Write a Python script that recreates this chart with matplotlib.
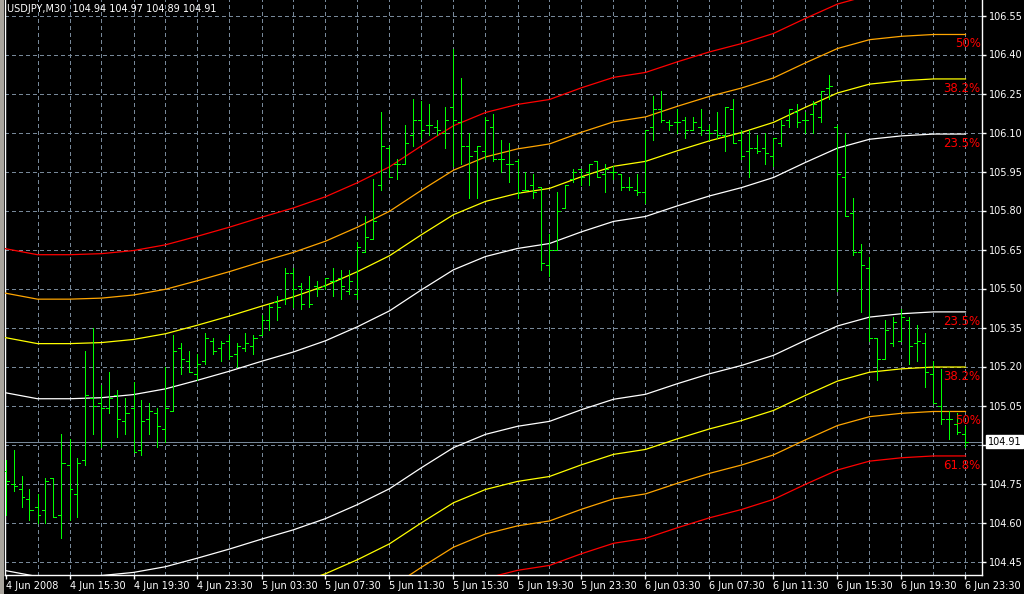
import matplotlib
matplotlib.use("Agg")
import matplotlib.pyplot as plt
from matplotlib.collections import LineCollection
from matplotlib.patches import Rectangle

plt.rcParams["lines.scale_dashes"] = False

# ---------------- data ----------------
title = "USDJPY,M30  104.94 104.97 104.89 104.91"

opens = [104.80, 104.75, 104.73, 104.69, 104.66, 104.65, 104.77, 104.63, 104.82, 104.71,
         104.84, 105.08, 105.06, 105.04, 105.09, 104.99, 105.04, 104.88, 105.00, 105.02,
         104.96, 105.03, 105.27, 105.22, 105.17, 105.22, 105.30, 105.27, 105.30, 105.25,
         105.27, 105.28, 105.32, 105.38, 105.45, 105.46, 105.56, 105.51, 105.50, 105.51,
         105.51, 105.53, 105.54, 105.49, 105.48, 105.64, 105.69, 105.90, 106.04, 105.98,
         105.98, 106.09, 106.15, 106.13, 106.12, 106.10, 106.20, 106.14, 106.05, 106.03,
         106.03, 106.12, 106.00, 105.98, 105.99, 105.88, 105.90, 105.89, 105.59, 105.65,
         105.81, 105.92, 105.96, 105.95, 105.99, 105.94, 105.95, 105.94, 105.89, 105.88,
         105.87, 106.12, 106.19, 106.14, 106.14, 106.15, 106.11, 106.12, 106.11, 106.11,
         106.09, 106.19, 106.07, 106.03, 106.04, 106.04, 106.01, 106.06, 106.15, 106.18,
         106.15, 106.17, 106.16, 106.27, 106.12, 105.93, 105.79, 105.64, 105.58, 105.31,
         105.23, 105.29, 105.30, 105.38, 105.29, 105.29, 105.17, 105.05, 105.00, 104.98,
         104.94]
highs = [104.84, 104.88, 104.78, 104.73, 104.71, 104.77, 104.77, 104.94, 104.92, 104.85,
         105.26, 105.35, 105.13, 105.18, 105.11, 105.08, 105.14, 105.07, 105.06, 105.04,
         105.20, 105.32, 105.29, 105.26, 105.25, 105.33, 105.31, 105.30, 105.32, 105.29,
         105.33, 105.32, 105.40, 105.44, 105.47, 105.58, 105.58, 105.52, 105.55, 105.53,
         105.54, 105.58, 105.57, 105.57, 105.68, 105.78, 105.92, 106.18, 106.05, 106.00,
         106.13, 106.23, 106.22, 106.21, 106.15, 106.20, 106.42, 106.31, 106.10, 106.05,
         106.16, 106.17, 106.07, 106.06, 106.00, 105.95, 105.94, 105.89, 105.71, 105.87,
         105.90, 105.96, 105.96, 105.98, 105.99, 105.98, 105.97, 105.94, 105.93, 105.94,
         106.11, 106.24, 106.26, 106.15, 106.19, 106.16, 106.16, 106.19, 106.13, 106.18,
         106.20, 106.23, 106.11, 106.11, 106.09, 106.10, 106.08, 106.15, 106.19, 106.21,
         106.18, 106.22, 106.26, 106.32, 106.13, 106.10, 105.85, 105.67, 105.62, 105.31,
         105.38, 105.39, 105.42, 105.39, 105.36, 105.33, 105.22, 105.19, 105.03, 105.02,
         104.97]
lows = [104.63, 104.72, 104.66, 104.61, 104.60, 104.60, 104.62, 104.54, 104.61, 104.62,
        104.82, 104.94, 104.89, 105.02, 104.93, 104.94, 104.87, 104.86, 104.94, 104.89,
        104.91, 105.03, 105.17, 105.18, 105.15, 105.21, 105.25, 105.22, 105.23, 105.20,
        105.26, 105.25, 105.32, 105.34, 105.38, 105.44, 105.43, 105.42, 105.43, 105.47,
        105.50, 105.47, 105.46, 105.48, 105.46, 105.64, 105.69, 105.88, 105.93, 105.92,
        105.98, 106.05, 106.08, 106.09, 106.09, 106.04, 105.97, 105.98, 105.85, 105.85,
        106.00, 105.99, 105.95, 105.91, 105.85, 105.88, 105.85, 105.57, 105.55, 105.65,
        105.81, 105.91, 105.90, 105.90, 105.93, 105.87, 105.92, 105.88, 105.88, 105.86,
        105.83, 106.07, 106.14, 106.11, 106.10, 106.08, 106.11, 106.09, 106.07, 106.08,
        106.03, 106.06, 106.00, 105.93, 106.02, 105.98, 105.97, 106.05, 106.12, 106.12,
        106.10, 106.10, 106.14, 106.23, 105.49, 105.78, 105.63, 105.41, 105.30, 105.15,
        105.23, 105.28, 105.30, 105.21, 105.22, 105.12, 105.06, 104.98, 104.92, 104.94,
        104.89]
closes = [104.76, 104.74, 104.70, 104.65, 104.63, 104.76, 104.62, 104.83, 104.73, 104.83,
          105.09, 105.05, 105.04, 105.08, 105.00, 105.02, 104.87, 104.99, 105.03, 104.97,
          105.04, 105.26, 105.23, 105.18, 105.21, 105.31, 105.26, 105.29, 105.24, 105.28,
          105.29, 105.31, 105.38, 105.43, 105.43, 105.56, 105.50, 105.44, 105.44, 105.50,
          105.54, 105.53, 105.51, 105.53, 105.66, 105.70, 105.76, 106.05, 105.93, 105.98,
          106.06, 106.15, 106.11, 106.13, 106.11, 106.15, 106.15, 106.05, 106.01, 106.05,
          106.15, 106.00, 106.00, 105.98, 105.87, 105.88, 105.87, 105.60, 105.65, 105.80,
          105.90, 105.95, 105.93, 105.98, 105.93, 105.96, 105.95, 105.89, 105.89, 105.87,
          106.11, 106.19, 106.15, 106.13, 106.14, 106.11, 106.14, 106.11, 106.10, 106.09,
          106.20, 106.06, 106.01, 106.04, 106.03, 106.02, 106.08, 106.13, 106.19, 106.14,
          106.15, 106.21, 106.26, 106.28, 105.94, 105.78, 105.64, 105.59, 105.31, 105.23,
          105.34, 105.37, 105.39, 105.28, 105.30, 105.18, 105.06, 105.00, 105.00, 104.95,
          104.91]

# indicator lines, sampled every 4 bars (bar 0, 4, ..., 120)
band_bars = list(range(0, 121, 4))
upper_618 = [105.653, 105.630, 105.630, 105.634, 105.646, 105.668, 105.701, 105.736, 105.774, 105.810,
             105.853, 105.907, 105.968, 106.049, 106.126, 106.177, 106.208, 106.227, 106.272, 106.312,
             106.331, 106.372, 106.410, 106.442, 106.481, 106.539, 106.594, 106.628, 106.641, 106.648,
             106.648]
upper_500 = [105.482, 105.459, 105.459, 105.463, 105.475, 105.497, 105.530, 105.565, 105.603, 105.639,
             105.682, 105.736, 105.797, 105.878, 105.955, 106.006, 106.037, 106.056, 106.101, 106.141,
             106.160, 106.201, 106.239, 106.271, 106.310, 106.368, 106.423, 106.457, 106.470, 106.477,
             106.477]
upper_382 = [105.311, 105.288, 105.288, 105.292, 105.304, 105.326, 105.359, 105.394, 105.432, 105.468,
             105.511, 105.565, 105.626, 105.707, 105.784, 105.835, 105.866, 105.885, 105.930, 105.970,
             105.989, 106.030, 106.068, 106.100, 106.139, 106.197, 106.252, 106.286, 106.299, 106.306,
             106.306]
upper_236 = [105.099, 105.076, 105.076, 105.080, 105.092, 105.114, 105.147, 105.182, 105.220, 105.256,
             105.299, 105.353, 105.414, 105.495, 105.572, 105.623, 105.654, 105.673, 105.718, 105.758,
             105.777, 105.818, 105.856, 105.888, 105.927, 105.985, 106.040, 106.074, 106.087, 106.094,
             106.094]
lower_236 = [104.415, 104.392, 104.392, 104.396, 104.408, 104.430, 104.463, 104.498, 104.536, 104.572,
             104.615, 104.669, 104.730, 104.811, 104.888, 104.939, 104.970, 104.989, 105.034, 105.074,
             105.093, 105.134, 105.172, 105.204, 105.243, 105.301, 105.356, 105.390, 105.403, 105.410,
             105.410]
lower_382 = [104.203, 104.180, 104.180, 104.184, 104.196, 104.218, 104.251, 104.286, 104.324, 104.360,
             104.403, 104.457, 104.518, 104.599, 104.676, 104.727, 104.758, 104.777, 104.822, 104.862,
             104.881, 104.922, 104.960, 104.992, 105.031, 105.089, 105.144, 105.178, 105.191, 105.198,
             105.198]
lower_500 = [104.032, 104.009, 104.009, 104.013, 104.025, 104.047, 104.080, 104.115, 104.153, 104.189,
             104.232, 104.286, 104.347, 104.428, 104.505, 104.556, 104.587, 104.606, 104.651, 104.691,
             104.710, 104.751, 104.789, 104.821, 104.860, 104.918, 104.973, 105.007, 105.020, 105.027,
             105.027]
lower_618 = [103.861, 103.838, 103.838, 103.842, 103.854, 103.876, 103.909, 103.944, 103.982, 104.018,
             104.061, 104.115, 104.176, 104.257, 104.334, 104.385, 104.416, 104.435, 104.480, 104.520,
             104.539, 104.580, 104.618, 104.650, 104.689, 104.747, 104.802, 104.836, 104.849, 104.856,
             104.856]

price_ticks = [104.45, 104.60, 104.75, 104.90, 105.05, 105.20, 105.35, 105.50, 105.65,
               105.80, 105.95, 106.10, 106.25, 106.40, 106.55]
price_labels = ["104.45", "104.60", "104.75", "", "105.05", "105.20", "105.35", "105.50",
                "105.65", "105.80", "105.95", "106.10", "106.25", "106.40", "106.55"]
time_labels = ["4 Jun 2008", "4 Jun 15:30", "4 Jun 19:30", "4 Jun 23:30", "5 Jun 03:30",
               "5 Jun 07:30", "5 Jun 11:30", "5 Jun 15:30", "5 Jun 19:30", "5 Jun 23:30",
               "6 Jun 03:30", "6 Jun 07:30", "6 Jun 11:30", "6 Jun 15:30", "6 Jun 19:30",
               "6 Jun 23:30"]
last_price = 104.91

# ---------------- figure ----------------
W, H = 1024, 594
fig = plt.figure(figsize=(W / 100, H / 100), dpi=100, facecolor="black")
L, R, B = 4.5, 982.0, 575.0          # pixel edges (x left/right, y bottom from top)
ax = fig.add_axes([L / W, (H - B) / H, (R - L) / W, B / H])
ax.set_facecolor("black")

n = len(opens)
# bar i sits on pixel centre x = 5.5 + 8 i
ax.set_xlim((L - 5.5) / 8.0, (R - 5.5) / 8.0)
# price 104.45 on pixel centre y = 561.5 (from top), 260 px per unit
pxu = 260.0
ax.set_ylim(104.45 - (B - 561.5) / pxu, 104.45 + 561.5 / pxu)

PX = 0.6  # crisp one-pixel aliased line
grid_col = "#778899"
dash = (0, (2.2, 2.2))
for p in price_ticks:
    ax.axhline(p, color=grid_col, lw=PX, ls=dash, antialiased=False, zorder=1)
for b in range(4, n, 4):
    ax.axvline(b, color=grid_col, lw=PX, ls=dash, antialiased=False, zorder=1)

# indicator lines
band_specs = [
    (upper_618, "#ff0000"), (upper_500, "#ffa500"), (upper_382, "#ffff00"), (upper_236, "#ffffff"),
    (lower_236, "#ffffff"), (lower_382, "#ffff00"), (lower_500, "#ffa500"), (lower_618, "#ff0000"),
]
for vals, col in band_specs:
    ax.plot(band_bars, vals, color=col, lw=0.9, zorder=3)

# current price line
ax.axhline(last_price, color=grid_col, lw=PX, antialiased=False, zorder=2)

# OHLC bars
segs = []
tk = 0.375
for i in range(n):
    segs.append([(i, lows[i]), (i, highs[i])])
    segs.append([(i - tk, opens[i]), (i, opens[i])])
    segs.append([(i, closes[i]), (i + tk, closes[i])])
ax.add_collection(LineCollection(segs, colors="#00ff00", linewidths=PX,
                                 antialiaseds=False, zorder=4))

# percentage labels
pct = [(upper_500, "50%"), (upper_382, "38.2%"), (upper_236, "23.5%"),
       (lower_236, "23.5%"), (lower_382, "38.2%"), (lower_500, "50%"), (lower_618, "61.8%")]
for vals, txt in pct:
    ax.annotate(txt, xy=(1.0, vals[-1]), xycoords=("axes fraction", "data"),
                xytext=(-1, -2), textcoords="offset points", ha="right", va="top",
                color="#ff0000", fontsize=8.5, zorder=5)

# spines
for s in ["left", "right", "bottom"]:
    ax.spines[s].set_color("white")
    ax.spines[s].set_linewidth(1.0)
ax.spines["top"].set_visible(False)

# y axis on right
ax.yaxis.tick_right()
ax.set_yticks(price_ticks)
ax.set_yticklabels(price_labels)
ax.tick_params(axis="y", colors="white", labelcolor="white", labelsize=7, length=3,
               width=1, pad=2, direction="out")

# x axis
ax.set_xticks(list(range(0, n, 8)))
ax.set_xticklabels(time_labels, ha="left")
ax.tick_params(axis="x", colors="white", labelcolor="white", labelsize=7, length=3,
               width=1, pad=1, direction="out")
for lbl in ax.get_xticklabels():
    lbl.set_horizontalalignment("left")

# last price box
ax.annotate(f"{last_price:.2f}", xy=(1.0, last_price), xycoords=("axes fraction", "data"),
            xytext=(4, 0), textcoords="offset points", ha="left", va="center",
            color="black", fontsize=7,
            bbox=dict(boxstyle="square,pad=0.15", fc="white", ec="white"), zorder=6,
            annotation_clip=False)

# title
fig.text(7 / W, 1 - 4 / H, title, color="white", fontsize=7, ha="left", va="top")

# left grey frame strip
fig.patches.append(Rectangle((0, 0), 4 / W, 1, transform=fig.transFigure,
                             facecolor="#a8a49c", edgecolor="none", zorder=0))

fig.savefig("out.png", dpi=100, facecolor="black")
